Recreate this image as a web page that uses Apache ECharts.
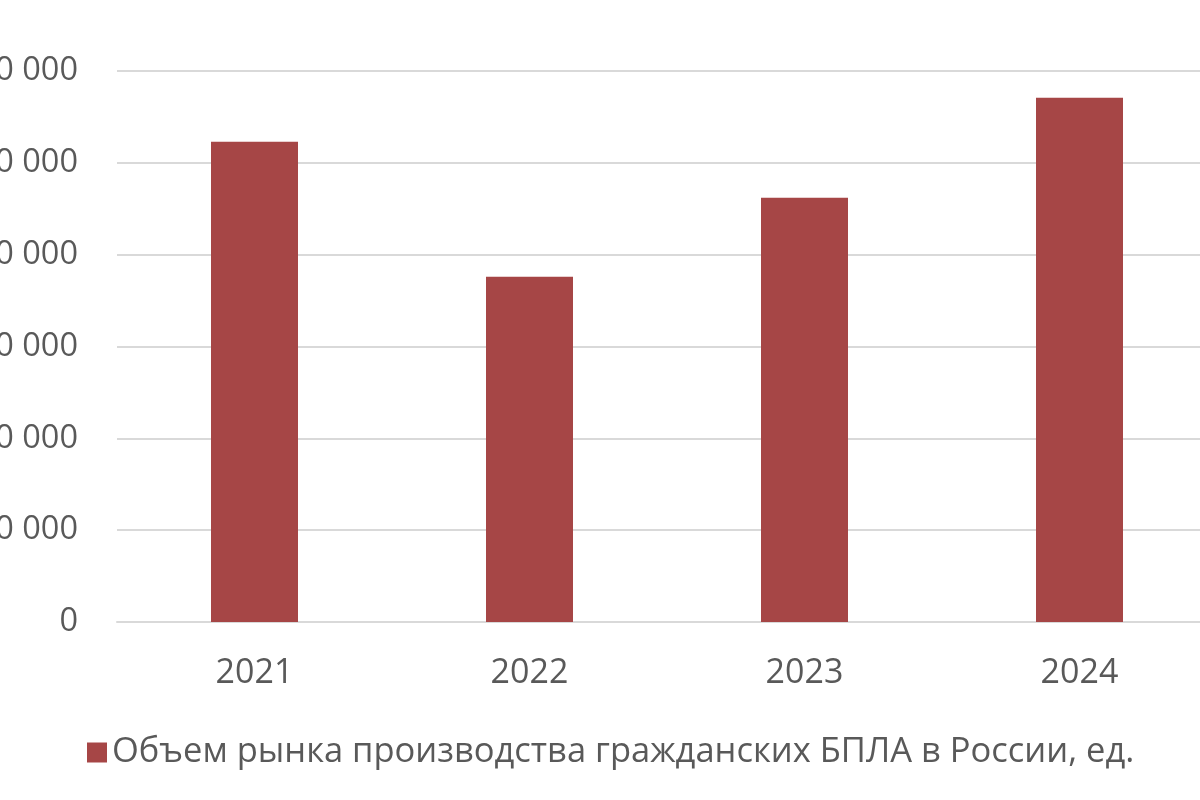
<!DOCTYPE html>
<html><head><meta charset="utf-8">
<script src="https://cdn.jsdelivr.net/npm/echarts@6/dist/echarts.min.js"></script>
<style>html,body{margin:0;padding:0;background:#fff}#c{width:1200px;height:800px}</style>
</head><body><div id="c"></div>
<script>
const categories = ['2021', '2022', '2023', '2024'];
const seriesName = 'Объем рынка производства гражданских БПЛА в России, ед.';
const values = [52300, 37600, 46200, 57100];
const yTicks = { min: 0, max: 60000, interval: 10000 };

const chart = echarts.init(document.getElementById('c'), null, { renderer: 'canvas' });
const fmt = v => String(v).replace(/\B(?=(\d{3})+(?!\d))/g, ' ');
chart.setOption({
  animation: false,
  backgroundColor: '#ffffff',
  textStyle: { fontFamily: 'Open Sans' },
  grid: { left: 117, top: 71, width: 1100, bottom: 178, containLabel: false, outerBoundsMode: 'none' },
  legend: {
    left: 82, top: 730, itemWidth: 20, itemHeight: 20, itemGap: 10,
    icon: 'rect',
    textStyle: { fontSize: 34.5, color: '#595959', fontFamily: 'Open Sans' },
    data: [seriesName]
  },
  xAxis: {
    type: 'category', data: categories,
    axisLine: { lineStyle: { color: '#d9d9d9', width: 2 } },
    axisTick: { show: false },
    axisLabel: { fontSize: 34, color: '#595959', margin: 34 }
  },
  yAxis: {
    type: 'value', min: yTicks.min, max: yTicks.max, interval: yTicks.interval,
    axisLine: { show: false }, axisTick: { show: false },
    splitLine: { lineStyle: { color: '#d9d9d9', width: 2 } },
    axisLabel: { fontSize: 32.5, color: '#595959', margin: 39, formatter: fmt }
  },
  series: [{
    name: seriesName, type: 'bar', data: values, barWidth: 87,
    itemStyle: { color: '#a64646' }
  }]
});
</script></body></html>
